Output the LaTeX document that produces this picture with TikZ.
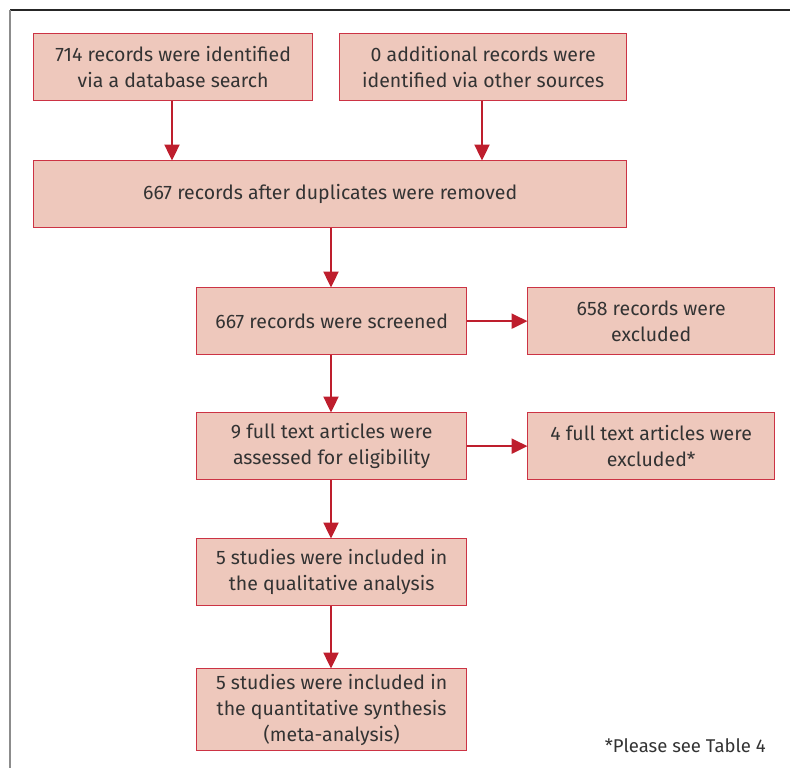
\documentclass[tikz,border=0pt]{standalone}
\usepackage{fontspec}
\setmainfont{Fira Sans}
\usetikzlibrary{arrows.meta}
\definecolor{boxfill}{HTML}{EEC8BC}
\definecolor{boxline}{HTML}{CC3344}
\definecolor{arrowred}{HTML}{BE1E2D}
\definecolor{txt}{HTML}{333333}
\tikzset{
  flowbox/.style={draw=boxline, line width=1.3pt, fill=boxfill, text=txt, align=center,
    font=\fontsize{19.5}{26}\selectfont, inner sep=0pt},
  flowarrow/.style={draw=arrowred, line width=2.4pt, -{Triangle[length=16pt,width=15pt]}, shorten >=-0.5pt},
}
\newcommand{\fbx}[6]{% name, x1, y1, x2, y2, text
  \node[flowbox, minimum width={(#4-#2)*1pt}, minimum height={(#5-#3)*1pt}, anchor=north west] (#1) at (#2pt,-#3pt) {#6};}
\begin{document}
\begin{tikzpicture}[x=1pt,y=1pt]
\useasboundingbox (0,0) rectangle (790,-768);
\draw[line width=1.2pt, black!85] (10,-10) -- (790,-10);
\draw[line width=1.2pt, black!45] (10,-768) -- (10,-10);
\fbx{a}{33}{33}{312}{100}{714 records were identified\\via a database search}
\fbx{b}{339}{33}{626}{100}{0 additional records were\\identified via other sources}
\fbx{c}{33}{160}{626}{227}{667 records after duplicates were removed}
\fbx{d}{196}{287}{466}{354}{667 records were screened}
\fbx{e}{527}{287}{774}{354}{658 records were\\excluded}
\fbx{f}{196}{412}{466}{479}{9 full text articles were\\assessed for eligibility}
\fbx{g}{527}{412}{774}{479}{4 full text articles were\\excluded*}
\fbx{h}{196}{538}{466}{605}{5 studies were included in\\the qualitative analysis}
\fbx{i}{196}{668}{466}{750}{5 studies were included in\\the quantitative synthesis\\(meta-analysis)}
\node[anchor=base east, text=txt, font=\fontsize{18.5}{22}\selectfont, inner sep=0pt] (note) at (766,-752) {*Please see Table 4};
\draw[flowarrow] (a.south -| 172,0) -- (c.north -| 172,0);
\draw[flowarrow] (b.south -| 482,0) -- (c.north -| 482,0);
\draw[flowarrow] (c.south -| 331,0) -- (d.north -| 331,0);
\draw[flowarrow] (d.east) -- (e.west);
\draw[flowarrow] (d.south -| 331,0) -- (f.north -| 331,0);
\draw[flowarrow] (f.east) -- (g.west);
\draw[flowarrow] (f.south -| 331,0) -- (h.north -| 331,0);
\draw[flowarrow] (h.south -| 331,0) -- (i.north -| 331,0);
\end{tikzpicture}
\end{document}
